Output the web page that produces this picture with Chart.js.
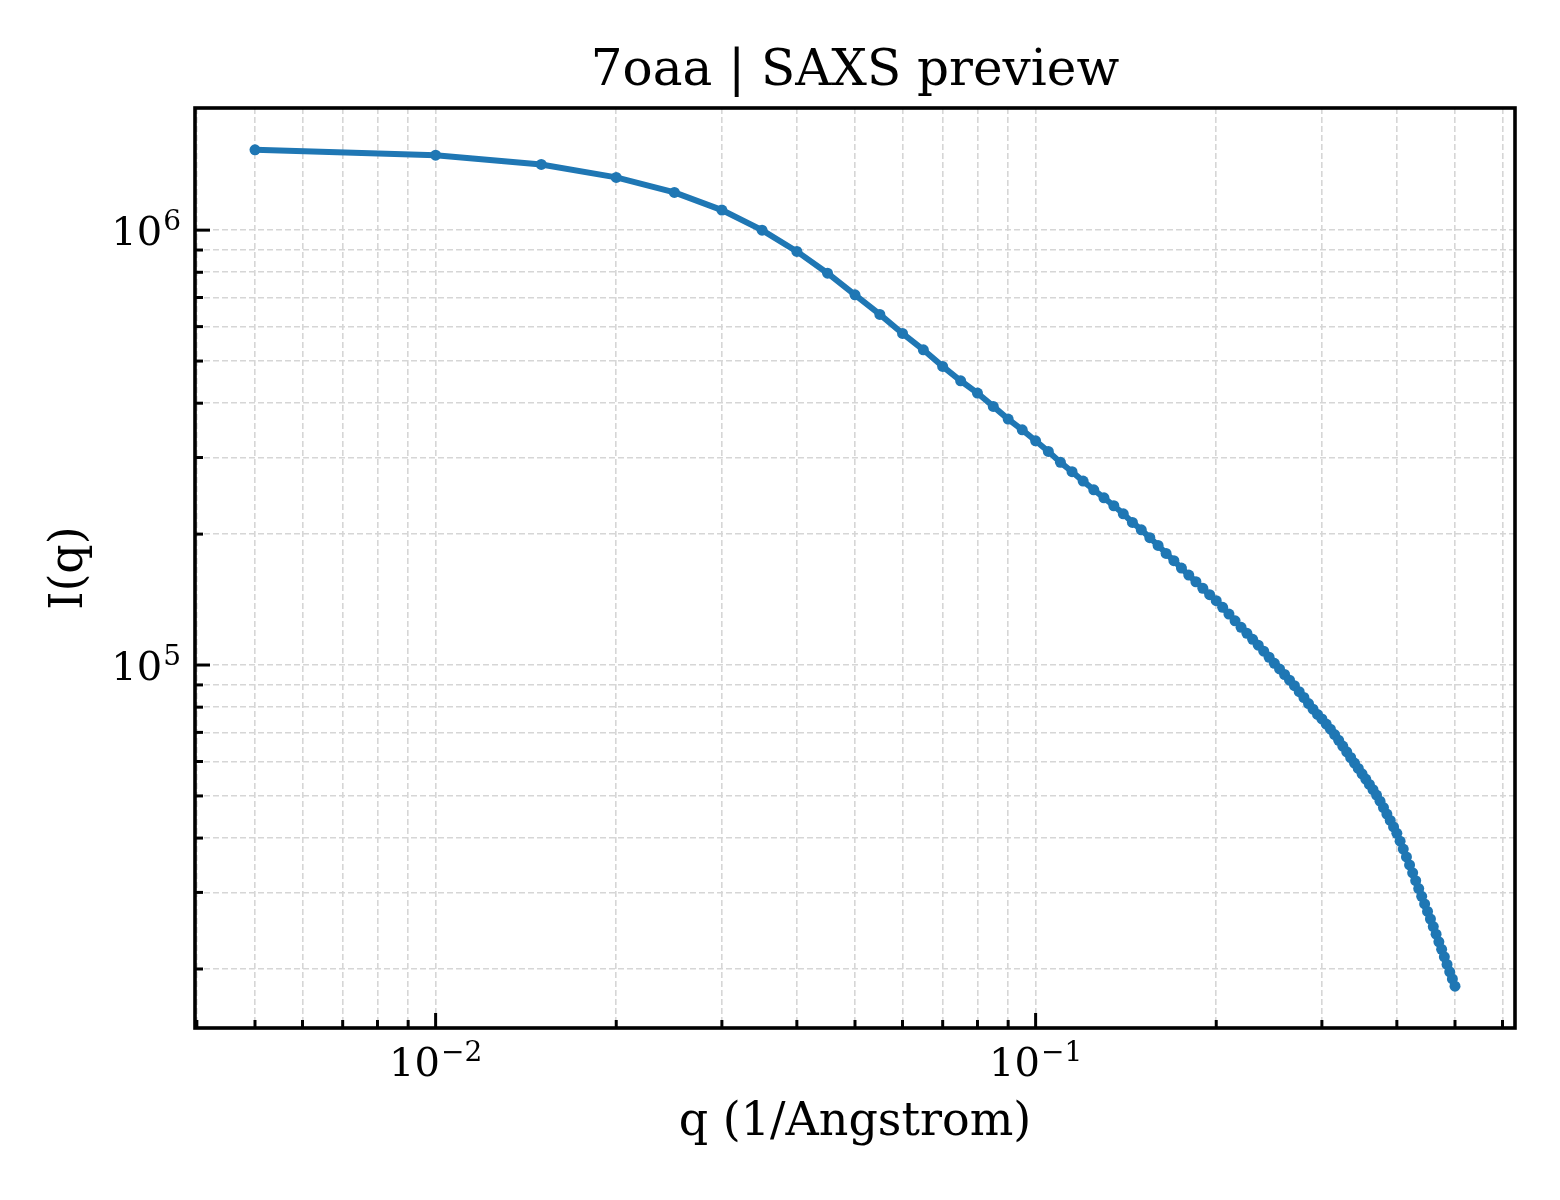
<!DOCTYPE html>
<html>
<head>
<meta charset="utf-8">
<title>7oaa | SAXS preview</title>
<script src="https://cdn.jsdelivr.net/npm/chart.js@4.4.1/dist/chart.umd.min.js"></script>
<style>
  html, body { margin: 0; padding: 0; background: #fff; }
  canvas { display: block; }
</style>
</head>
<body>
<canvas id="saxsChart" width="1560" height="1200"></canvas>
<script>
// ================= DATA =================

const qValues = [
    0.005, 0.01, 0.015, 0.02, 0.025, 0.03, 0.035, 0.04, 0.045, 0.05,
    0.055, 0.06, 0.065, 0.07, 0.075, 0.08, 0.085, 0.09, 0.095, 0.1,
    0.105, 0.11, 0.115, 0.12, 0.125, 0.13, 0.135, 0.14, 0.145, 0.15,
    0.155, 0.16, 0.165, 0.17, 0.175, 0.18, 0.185, 0.19, 0.195, 0.2,
    0.205, 0.21, 0.215, 0.22, 0.225, 0.23, 0.235, 0.24, 0.245, 0.25,
    0.255, 0.26, 0.265, 0.27, 0.275, 0.28, 0.285, 0.29, 0.295, 0.3,
    0.305, 0.31, 0.315, 0.32, 0.325, 0.33, 0.335, 0.34, 0.345, 0.35,
    0.355, 0.36, 0.365, 0.37, 0.375, 0.38, 0.385, 0.39, 0.395, 0.4,
    0.405, 0.41, 0.415, 0.42, 0.425, 0.43, 0.435, 0.44, 0.445, 0.45,
    0.455, 0.46, 0.465, 0.47, 0.475, 0.48, 0.485, 0.49, 0.495, 0.5
];

const intensity = [
    1530000, 1487000, 1416000, 1322000, 1221000, 1112000, 1000000, 893500, 796200, 710000,
    640000, 578700, 530700, 486100, 450400, 422100, 393300, 367700, 347400, 327800,
    309900, 292400, 278300, 264800, 252900, 242400, 232400, 222700, 212800, 204600,
    196200, 188400, 180600, 173700, 167100, 161000, 155400, 150100, 145100, 140600,
    135700, 131000, 126400, 122100, 118300, 114600, 111100, 107600, 104200, 100900,
    97950, 95100, 92300, 89620, 86860, 84200, 81550, 79150, 77000, 75160,
    73150, 71190, 69200, 67130, 65120, 63170, 61280, 59490, 57840, 56220,
    54660, 53140, 51680, 50240, 48640, 47010, 45430, 43920, 42440, 41020,
    39340, 37740, 36190, 34700, 33280, 31920, 30620, 29390, 28220, 27130,
    26060, 25030, 24050, 23100, 22200, 21330, 20490, 19700, 18970, 18260
];

// major ticks: base 10 with exponent drawn as superscript
const xMajorTicks = [0.01, 0.1];
const xTickExponents = ['\u22122', '\u22121'];
const yMajorTicks = [100000, 1000000];
const yTickExponents = ['5', '6'];

const chartTitle = '7oaa | SAXS preview';
const xAxisTitle = 'q (1/Angstrom)';
const yAxisTitle = 'I(q)';

// ================= HELPERS =================

const FONT = "'DejaVu Serif', 'Liberation Serif', serif";
const GRID_COLOR = '#d6d6d6';

// log range with 5% margin, like matplotlib autoscale
function logRange(values){
    const lo = Math.log10(Math.min(...values));
    const hi = Math.log10(Math.max(...values));
    const pad = (hi - lo) * 0.05;
    return { min: Math.pow(10, lo - pad), max: Math.pow(10, hi + pad) };
}

// 1..9 x 10^n positions inside the range (major + minor grid)
function decadeSteps(min, max){
    const out = [];
    for(let e = Math.floor(Math.log10(min)); e <= Math.ceil(Math.log10(max)); e++){
        for(let m = 1; m <= 9; m++){
            const v = Number((m * Math.pow(10, e)).toPrecision(6));
            if(v >= min && v <= max) out.push(v);
        }
    }
    return out;
}

function findMajor(list, value){
    return list.findIndex(v => Math.abs(v - value) / v < 1e-6);
}

const xRange = logRange(qValues);
const yRange = logRange(intensity);

// ================= TITLE, TICKS, FRAME =================

const BASE_SIZE = 40;
const EXP_SIZE = 28;

function drawPowerLabel(ctx, x, baseline, exp, align){
    ctx.font = BASE_SIZE + 'px ' + FONT;
    const wBase = ctx.measureText('10').width;
    ctx.font = EXP_SIZE + 'px ' + FONT;
    const wExp = ctx.measureText(exp).width;
    const total = wBase + wExp + 1;
    let left = align === 'right' ? x - total : x - total / 2;

    ctx.textAlign = 'left';
    ctx.textBaseline = 'alphabetic';
    ctx.font = BASE_SIZE + 'px ' + FONT;
    ctx.fillText('10', left, baseline);
    ctx.font = EXP_SIZE + 'px ' + FONT;
    ctx.fillText(exp, left + wBase + 1, baseline - 15);
}

const axisDecor = {
    id: 'axisDecor',
    afterDraw(chart){
        const { ctx, chartArea: a, scales } = chart;
        ctx.save();
        ctx.fillStyle = '#000';
        ctx.strokeStyle = '#000';

        // title centred over the plot area
        ctx.font = '50px ' + FONT;
        ctx.textAlign = 'center';
        ctx.textBaseline = 'alphabetic';
        ctx.fillText(chartTitle, (a.left + a.right) / 2, 85);

        // inward tick marks
        ctx.lineWidth = 3;
        scales.x.ticks.forEach(t => {
            const px = scales.x.getPixelForValue(t.value);
            const len = findMajor(xMajorTicks, t.value) >= 0 ? 15 : 8;
            ctx.beginPath();
            ctx.moveTo(px, a.bottom);
            ctx.lineTo(px, a.bottom - len);
            ctx.stroke();
        });
        scales.y.ticks.forEach(t => {
            const py = scales.y.getPixelForValue(t.value);
            const len = findMajor(yMajorTicks, t.value) >= 0 ? 15 : 8;
            ctx.beginPath();
            ctx.moveTo(a.left, py);
            ctx.lineTo(a.left + len, py);
            ctx.stroke();
        });

        // tick labels
        xMajorTicks.forEach((v, i) => {
            drawPowerLabel(ctx, scales.x.getPixelForValue(v), a.bottom + 48, xTickExponents[i], 'center');
        });
        yMajorTicks.forEach((v, i) => {
            drawPowerLabel(ctx, a.left - 14, scales.y.getPixelForValue(v) + 15, yTickExponents[i], 'right');
        });

        // frame
        ctx.lineWidth = 3.6;
        ctx.strokeRect(a.left, a.top, a.right - a.left, a.bottom - a.top);
        ctx.restore();
    }
};

// ================= CHART =================

const points = qValues.map((q, i) => ({ x: q, y: intensity[i] }));

new Chart(document.getElementById('saxsChart'), {
    type: 'line',
    data: {
        datasets: [{
            data: points,
            borderColor: '#1f77b4',
            backgroundColor: '#1f77b4',
            borderWidth: 6,
            pointRadius: 5.5,
            pointBorderWidth: 0,
            pointBackgroundColor: '#1f77b4',
            tension: 0,
            fill: false
        }]
    },
    options: {
        responsive: false,
        animation: false,
        devicePixelRatio: 1,
        layout: { padding: { left: 0, right: 45, top: 108, bottom: 0 } },
        plugins: {
            legend: { display: false },
            tooltip: { enabled: false },
            title: { display: false }
        },
        scales: {
            x: {
                type: 'logarithmic',
                position: 'bottom',
                min: xRange.min,
                max: xRange.max,
                afterBuildTicks: scale => {
                    scale.ticks = decadeSteps(xRange.min, xRange.max).map(v => ({ value: v }));
                },
                afterFit: scale => { scale.height = 172; },
                grid: { color: GRID_COLOR, lineWidth: 1.6, drawTicks: false },
                border: { display: false, dash: [6, 3] },
                ticks: { display: false, autoSkip: false },
                title: {
                    display: true,
                    text: xAxisTitle,
                    color: '#000',
                    font: { family: FONT, size: 46 },
                    padding: { top: 0, bottom: 49 }
                }
            },
            y: {
                type: 'logarithmic',
                position: 'left',
                min: yRange.min,
                max: yRange.max,
                afterBuildTicks: scale => {
                    scale.ticks = decadeSteps(yRange.min, yRange.max).map(v => ({ value: v }));
                },
                afterFit: scale => { scale.width = 195; },
                grid: { color: GRID_COLOR, lineWidth: 1.6, drawTicks: false },
                border: { display: false, dash: [6, 3] },
                ticks: { display: false, autoSkip: false },
                title: {
                    display: true,
                    text: yAxisTitle,
                    color: '#000',
                    font: { family: FONT, size: 46 },
                    padding: { top: 42, bottom: 0 }
                }
            }
        }
    },
    plugins: [axisDecor]
});
</script>
</body>
</html>
